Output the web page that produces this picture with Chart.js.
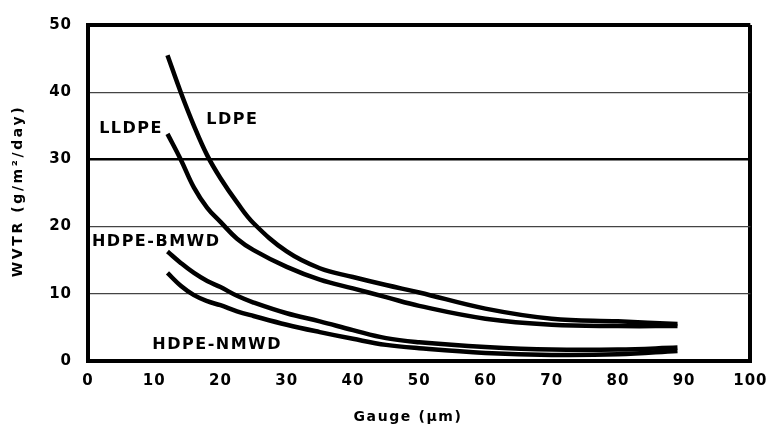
<!DOCTYPE html>
<html>
<head>
<meta charset="utf-8">
<title>WVTR vs gauge</title>
<script src="https://cdn.jsdelivr.net/npm/chart.js@4.4.0/dist/chart.umd.min.js"></script>
<style>
  html, body { margin: 0; padding: 0; background: #fff; }
  #wrap { width: 777px; height: 435px; }
</style>
</head>
<body>
<div id="wrap"><canvas id="wvtr-chart" width="777" height="435"></canvas></div>
<script>
// film gauge (µm) and water vapour transmission rate (g/m²/day) per resin
const gauge = [12, 14, 16, 18, 20, 22.5, 25, 30, 35, 40, 45, 50, 60, 70, 80, 89];
const ldpe = [45.5, 40.0, 35.0, 30.6, 27.2, 23.6, 20.5, 16.3, 13.8, 12.5, 11.3, 10.2, 7.8, 6.3, 5.9, 5.5];
const lldpe = [33.8, 30.0, 25.8, 22.8, 20.7, 18.2, 16.5, 14.0, 12.1, 10.8, 9.5, 8.2, 6.3, 5.4, 5.2, 5.2];
const hdpeBmwd = [16.3, 14.6, 13.1, 11.9, 11.0, 9.7, 8.7, 7.1, 5.9, 4.6, 3.4, 2.8, 2.1, 1.7, 1.7, 2.0];
const hdpeNmwd = [13.1, 11.2, 9.8, 8.9, 8.3, 7.4, 6.7, 5.4, 4.3, 3.3, 2.4, 1.9, 1.2, 0.9, 1.0, 1.5];

const xTicks = [0, 10, 20, 30, 40, 50, 60, 70, 80, 90, 100];
const yTicks = [0, 10, 20, 30, 40, 50];

// curve names, placed next to their lines (in axis units)
const curveLabels = [
  { text: "LDPE", gauge: 21.8, wvtr: 35.9 },
  { text: "LLDPE", gauge: 6.5, wvtr: 34.6 },
  { text: "HDPE-BMWD", gauge: 10.3, wvtr: 17.7 },
  { text: "HDPE-NMWD", gauge: 19.5, wvtr: 2.4 },
];

const toPoints = (ys) => ys.map((y, i) => ({ x: gauge[i], y: y }));

const curve = (label, ys) => ({
  label: label,
  data: toPoints(ys),
  borderColor: "#000",
  borderWidth: 4.5,
  pointRadius: 0,
  fill: false,
  tension: 0.4,
});

const FONT = "'DejaVu Sans', 'Liberation Sans', sans-serif";

// wider tracking for axis text, the chart uses a stretched bold face
const spacing = {
  id: "spacing",
  beforeDraw(chart) { chart.ctx.letterSpacing = "1px"; },
  afterDraw(chart) { chart.ctx.letterSpacing = "0px"; },
};

const textLayer = {
  id: "textLayer",
  afterDatasetsDraw(chart) {
    const { ctx, scales, chartArea } = chart;
    ctx.save();
    ctx.fillStyle = "#000";
    ctx.textAlign = "center";
    ctx.textBaseline = "middle";

    ctx.font = "bold 16px " + FONT;
    ctx.letterSpacing = "1.5px";
    curveLabels.forEach((l) => {
      ctx.fillText(l.text, scales.x.getPixelForValue(l.gauge), scales.y.getPixelForValue(l.wvtr));
    });

    // axis titles
    ctx.font = "bold 14px " + FONT;
    ctx.letterSpacing = "1.6px";
    ctx.fillText("Gauge (µm)", chartArea.left + 320, 417);

    ctx.letterSpacing = "2.6px";
    ctx.translate(18, chartArea.top + 166);
    ctx.rotate(-Math.PI / 2);
    ctx.fillText("WVTR (g/m²/day)", 0, 0);
    ctx.restore();
  },
};

new Chart(document.getElementById("wvtr-chart"), {
  type: "line",
  data: {
    datasets: [
      curve("LDPE", ldpe),
      curve("LLDPE", lldpe),
      curve("HDPE-BMWD", hdpeBmwd),
      curve("HDPE-NMWD", hdpeNmwd),
    ],
  },
  options: {
    responsive: false,
    animation: false,
    devicePixelRatio: 1,
    layout: { padding: { top: 14, right: 15, left: 0, bottom: 0 } },
    plugins: {
      legend: { display: false },
      tooltip: { enabled: false },
    },
    scales: {
      x: {
        type: "linear",
        min: 0,
        max: 100,
        afterFit: (scale) => { scale.height = 74; },
        afterBuildTicks: (scale) => { scale.ticks = xTicks.map((v) => ({ value: v })); },
        ticks: {
          padding: 11,
          color: "#000",
          font: { family: FONT, size: 15, weight: "bold" },
          maxRotation: 0,
        },
        grid: {
          drawTicks: false,
          color: (c) => (c.tick && c.tick.value === 100 ? "#000" : "rgba(0,0,0,0)"),
          lineWidth: 4,
        },
        border: { display: true, color: "#000", width: 4 },
      },
      y: {
        type: "linear",
        min: 0,
        max: 50,
        afterFit: (scale) => { scale.width = 88; },
        afterBuildTicks: (scale) => { scale.ticks = yTicks.map((v) => ({ value: v })); },
        ticks: {
          padding: 16,
          color: "#000",
          font: { family: FONT, size: 15, weight: "bold" },
        },
        grid: {
          drawTicks: false,
          color: (c) => {
            const v = c.tick && c.tick.value;
            if (v === 0) return "rgba(0,0,0,0)";
            if (v === 50 || v === 30) return "#000";
            return "#444";
          },
          lineWidth: (c) => {
            const v = c.tick && c.tick.value;
            if (v === 50) return 4;
            if (v === 30) return 2.5;
            return 1.2;
          },
        },
        border: { display: true, color: "#000", width: 4 },
      },
    },
  },
  plugins: [spacing, textLayer],
});
</script>
</body>
</html>
